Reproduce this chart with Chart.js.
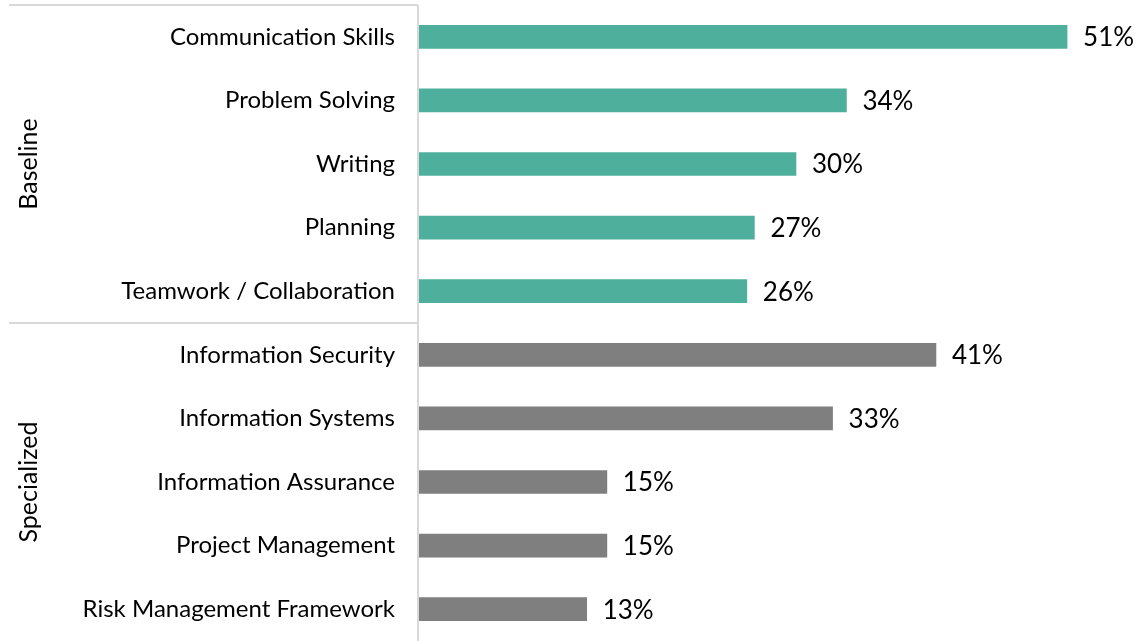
<!DOCTYPE html>
<html>
<head>
<meta charset="utf-8">
<script src="https://cdn.jsdelivr.net/npm/chart.js@4/dist/chart.umd.min.js"></script>
<style>
  html, body { margin: 0; padding: 0; background: #fff; }
  #wrap { width: 1144px; height: 641px; position: relative; }
</style>
</head>
<body>
<div id="wrap"><canvas id="skillsChart"></canvas></div>
<script>
const categories = [
    'Communication Skills', 'Problem Solving', 'Writing', 'Planning', 'Teamwork / Collaboration',
    'Information Security', 'Information Systems', 'Information Assurance', 'Project Management', 'Risk Management Framework'
];
const values = [51.4, 33.9, 29.9, 26.6, 26.0, 41.0, 32.8, 14.9, 14.9, 13.3];
const groups = ['Baseline', 'Specialized'];
const groupSizes = [5, 5];
const groupColors = ['#4FAF9D', '#7F7F7F'];

const FONT = 'Lato, "Noto Sans", sans-serif';
const lineColor = '#D9D9D9';

const barColors = [];
groupSizes.forEach((n, g) => { for (let i = 0; i < n; i++) barColors.push(groupColors[g]); });

const groupPlugin = {
    id: 'groupPlugin',
    afterDraw: (chart) => {
        const ctx = chart.ctx;
        const area = chart.chartArea;
        const y = chart.scales.y;
        const left = 9;

        ctx.save();
        ctx.strokeStyle = lineColor;
        ctx.lineWidth = 2;
        // axis line
        ctx.beginPath();
        ctx.moveTo(area.left - 1, area.top);
        ctx.lineTo(area.left - 1, chart.height);
        ctx.stroke();

        // top line and separators
        let start = 0;
        const edges = [area.top];
        groupSizes.forEach((n, g) => {
            const end = start + n - 1;
            if (end < categories.length - 1) {
                edges.push((y.getPixelForValue(end) + y.getPixelForValue(end + 1)) / 2);
            }
            start += n;
        });
        edges.forEach(e => {
            ctx.beginPath();
            ctx.moveTo(left, e);
            ctx.lineTo(area.left - 1, e);
            ctx.stroke();
        });

        // group labels
        ctx.fillStyle = '#000';
        ctx.font = '25px ' + FONT;
        ctx.textAlign = 'center';
        ctx.textBaseline = 'middle';
        start = 0;
        groupSizes.forEach((n, g) => {
            const top = start === 0 ? area.top : (y.getPixelForValue(start - 1) + y.getPixelForValue(start)) / 2;
            const last = start + n - 1;
            const bottom = last === categories.length - 1 ? chart.height : (y.getPixelForValue(last) + y.getPixelForValue(last + 1)) / 2;
            ctx.save();
            ctx.translate(29, (top + bottom) / 2);
            ctx.rotate(-Math.PI / 2);
            ctx.fillText(groups[g], 0, 0);
            ctx.restore();
            start += n;
        });
        ctx.restore();
    },
    afterDatasetsDraw: (chart) => {
        const ctx = chart.ctx;
        const meta = chart.getDatasetMeta(0);
        ctx.save();
        ctx.fillStyle = '#000';
        ctx.font = '26px ' + FONT;
        ctx.textAlign = 'left';
        ctx.textBaseline = 'middle';
        meta.data.forEach((bar, i) => {
            ctx.fillText(Math.round(values[i]) + '%', bar.x + 16, bar.y + 1);
        });
        ctx.restore();
    }
};

const ctx = document.getElementById('skillsChart').getContext('2d');
new Chart(ctx, {
    type: 'bar',
    data: {
        labels: categories,
        datasets: [{
            data: values,
            backgroundColor: barColors,
            barThickness: 23
        }]
    },
    options: {
        indexAxis: 'y',
        responsive: true,
        maintainAspectRatio: false,
        animation: false,
        layout: { padding: { top: 5, bottom: 0, left: 0, right: 0 } },
        scales: {
            x: {
                display: false,
                min: 0,
                max: 57.5
            },
            y: {
                grid: { display: false, drawTicks: false },
                border: { display: false },
                afterFit: (scale) => {
                    scale.width = 419;
                    scale.paddingTop = 0;
                    scale.paddingBottom = 0;
                },
                ticks: {
                    color: '#000',
                    padding: 24,
                    font: { family: FONT, size: 24 }
                }
            }
        },
        plugins: {
            legend: { display: false },
            tooltip: { enabled: false }
        }
    },
    plugins: [groupPlugin]
});
</script>
</body>
</html>
